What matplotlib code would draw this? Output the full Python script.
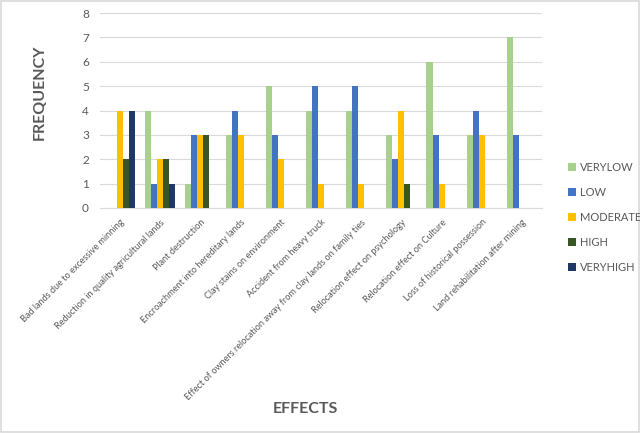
import numpy as np
import matplotlib.pyplot as plt
from matplotlib.patches import Rectangle

effects = [
    "Bad lands due to excessive minning",
    "Reduction in quality agricultural lands",
    "Plant destruction",
    "Encroachment into hereditary lands",
    "Clay stains on environment",
    "Accident from heavy truck",
    "Effect of owners relocation away from clay lands on family ties",
    "Relocation effect on psychology",
    "Relocation effect on Culture",
    "Loss of historical possession",
    "Land rehabilitation after mining",
]
levels = ["VERYLOW", "LOW", "MODERATE", "HIGH", "VERYHIGH"]
verylow = [0, 4, 1, 3, 5, 4, 4, 3, 6, 3, 7]
low = [0, 1, 3, 4, 3, 5, 5, 2, 3, 4, 3]
moderate = [4, 2, 3, 3, 2, 1, 1, 4, 1, 3, 0]
high = [2, 2, 3, 0, 0, 0, 0, 1, 0, 0, 0]
veryhigh = [4, 1, 0, 0, 0, 0, 0, 0, 0, 0, 0]
series = [verylow, low, moderate, high, veryhigh]
colors = ["#A9D18E", "#4472C4", "#FFC000", "#375623", "#203864"]

plt.rcParams['font.family'] = ['Lato', 'DejaVu Sans']
txt = "#595959"

fig = plt.figure(figsize=(6.4, 4.33), dpi=100)
ax = fig.add_axes([100/640, 1 - 208/433, 442/640, 195/433])

x = np.arange(len(effects))
w = 0.15
for i, (vals, col, lab) in enumerate(zip(series, colors, levels)):
    ax.bar(x + (i - 2) * w, vals, width=w, color=col, label=lab, zorder=3)

ax.set_xlim(-0.5, len(effects) - 0.5)
ax.set_ylim(0, 8)
ax.set_yticks(range(0, 9))
ax.grid(axis='y', color='#D9D9D9', linewidth=0.8, zorder=0)
for s in ['top', 'right', 'left']:
    ax.spines[s].set_visible(False)
ax.spines['bottom'].set_color('#D9D9D9')
ax.tick_params(axis='both', length=0, colors=txt, labelsize=8.5)
ax.tick_params(axis='y', pad=8)
ax.set_xticks(x)
ax.set_xticklabels(effects, rotation=45, ha='right', rotation_mode='anchor', fontsize=6.6)
ax.tick_params(axis='x', pad=7)

fig.text(40/640, 1 - 92/433, "FREQUENCY", rotation=90, ha='center', va='center',
         fontsize=11.5, fontweight='bold', color=txt)
fig.text(305/640, 1 - 409/433, "EFFECTS", ha='center', va='center',
         fontsize=11.5, fontweight='bold', color=txt)

fig.legend(loc='upper left', bbox_to_anchor=(558/640, 1 - 152/433), frameon=False,
           fontsize=8, labelcolor=txt, handlelength=0.7, handleheight=0.7,
           handletextpad=0.4, labelspacing=1.25)

fig.patches.append(Rectangle((0.002, 0.002), 0.996, 0.996, transform=fig.transFigure,
                             fill=False, edgecolor='#D9D9D9', linewidth=1.2))

fig.savefig("out.png", dpi=100)
